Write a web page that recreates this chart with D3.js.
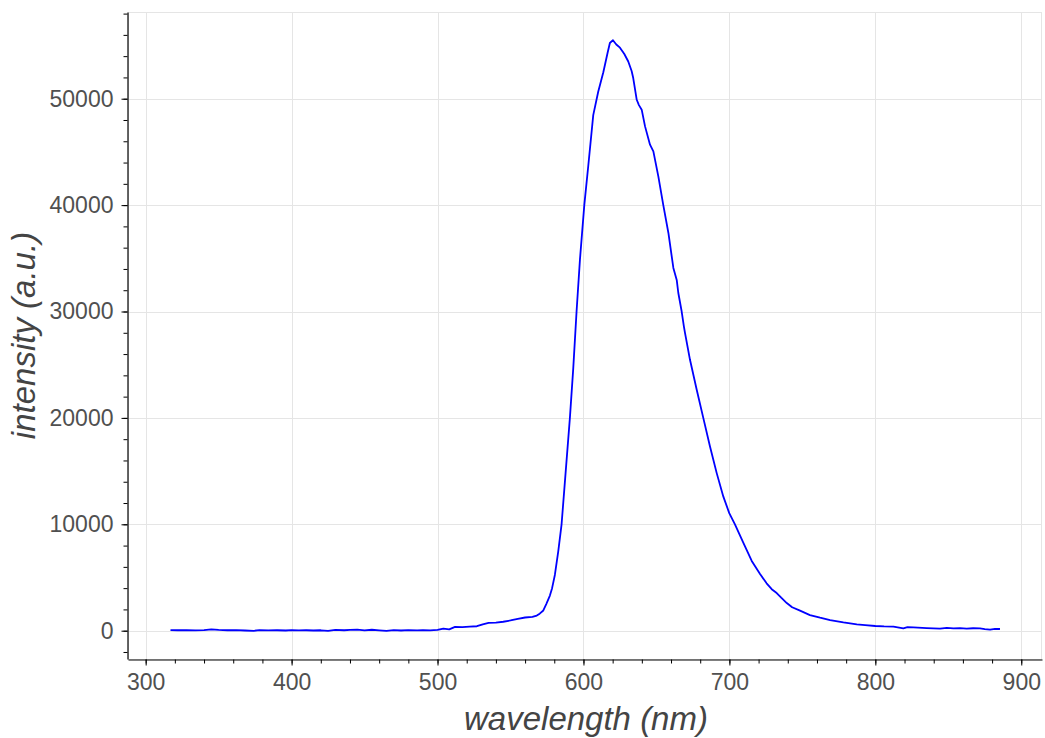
<!DOCTYPE html>
<html>
<head>
<meta charset="utf-8">
<script src="https://cdn.jsdelivr.net/npm/d3@7/dist/d3.min.js"></script>
<style>
  html, body { margin: 0; padding: 0; background: #fff; }
  svg { display: block; }
  text { font-family: "Liberation Sans", Arial, Helvetica, sans-serif; }
</style>
</head>
<body>
<svg id="chart" width="1045" height="738"></svg>
<script>
// wavelength (nm)
const wavelength = [317,322,328,334,340,345,350,356,362,368,374,378,384,390,396,400,405,410,415,420,425,430,436,440,445,450,455,460,465,470,475,480,486,490,495,500,504,508,512,517,522,527,531,535,540,545,550,555,560,565,568,570,572.5,574.5,577,578.5,580.4,582.7,585,587.3,590.7,593,595.3,597.6,600.6,603.3,606.7,610.1,613.6,616.5,618.1,620.2,622.5,625,628,630.7,633,634.1,636.5,638,639.9,642.2,645.6,647.9,651.3,654.7,658.2,661.6,663.9,665,667.3,668.8,669.6,673,677.6,682.1,686.7,691.3,695.8,699.9,703.8,709.5,715.3,721,725.5,729,732.4,735.5,739.3,743,748.4,755.2,762.1,769,778.1,787.3,793,800,806,812.4,819.2,822,826.1,835.2,844.3,849,853.5,858,862.6,867,871.7,875,878.6,882,885.4];
// intensity (a.u.)
const intensity = [60,40,50,30,60,120,70,40,50,20,-10,50,30,40,20,60,30,40,20,40,-20,80,40,70,100,30,90,40,-10,50,20,60,30,60,30,70,200,130,360,340,380,420,600,740,760,840,960,1120,1240,1300,1420,1600,1900,2500,3300,4000,5240,7440,10000,14030,20000,24650,30070,34900,40040,43700,48460,50660,52490,54300,55240,55500,55100,54800,54200,53500,52600,51940,49900,49400,48970,47400,45680,45050,42700,40000,37380,34090,32970,31740,30000,28610,27960,25460,22640,20000,17320,14810,12620,11050,10000,8280,6560,5330,4450,3900,3540,3100,2600,2200,1880,1470,1220,1000,780,600,520,440,400,380,220,330,310,250,190,260,220,240,190,230,220,150,100,180,160];
const xMajorTicks = [300,400,500,600,700,800,900];
const xMinorTicks = d3.range(300, 901, 20);
const yMajorTicks = [0,10000,20000,30000,40000,50000];
const yMinorTicks = d3.range(-2000, 58001, 2000);
const xLabel = "wavelength (nm)";
const yLabel = "intensity (a.u.)";

const data = wavelength.map((w, i) => ({x: w, y: intensity[i]}));

const L = 128, R = 1042, T = 12, B = 659;
const svg = d3.select("#chart");

const x = d3.scaleLinear().domain([287.9, 914.2]).range([L, R]);
const y = d3.scaleLinear().domain([-2660, 58150]).range([B, T]);

// grid
const grid = svg.append("g").attr("stroke", "#e5e5e5").attr("stroke-width", 1);
grid.selectAll("line.vx").data(xMajorTicks).join("line")
  .attr("x1", d => Math.round(x(d)) + 0.5).attr("x2", d => Math.round(x(d)) + 0.5)
  .attr("y1", T).attr("y2", B);
grid.selectAll("line.hy").data(yMajorTicks).join("line")
  .attr("x1", L).attr("x2", R)
  .attr("y1", d => Math.round(y(d)) + 0.5).attr("y2", d => Math.round(y(d)) + 0.5);

// outline
svg.append("rect").attr("x", L + 0.5).attr("y", T + 0.5)
  .attr("width", R - L - 1).attr("height", B - T)
  .attr("fill", "none").attr("stroke", "#e5e5e5");

// line
const line = d3.line().x(d => x(d.x)).y(d => y(d.y));
svg.append("path").datum(data)
  .attr("d", line)
  .attr("fill", "none")
  .attr("stroke", "#0000ff")
  .attr("stroke-width", 1.8)
  .attr("stroke-linejoin", "round");

// axes
const fontSize = 23;
const tickColor = "#505050";
const xAxisMinor = d3.axisBottom(x).tickValues(xMinorTicks).tickSize(4).tickFormat("").tickSizeOuter(0);
const xAxisMajor = d3.axisBottom(x).tickValues(xMajorTicks).tickSize(6).tickPadding(8).tickSizeOuter(0).tickFormat(d3.format("d"));
const gxm = svg.append("g").attr("transform", `translate(0,${B + 0.5})`).call(xAxisMinor);
const gx = svg.append("g").attr("transform", `translate(0,${B + 0.5})`).call(xAxisMajor);
gxm.select(".domain").attr("stroke", "#000").attr("stroke-width", 1.2);
gx.select(".domain").remove();
gx.selectAll("text").attr("font-size", fontSize).attr("fill", tickColor).attr("font-family", "Liberation Sans, Arial, sans-serif");

const yAxisMinor = d3.axisLeft(y).tickValues(yMinorTicks).tickSize(4).tickFormat("").tickSizeOuter(0);
const yAxisMajor = d3.axisLeft(y).tickValues(yMajorTicks).tickSize(6).tickPadding(8).tickSizeOuter(0).tickFormat(d3.format("d"));
const gym = svg.append("g").attr("transform", `translate(${L - 0.5},0)`).call(yAxisMinor);
const gy = svg.append("g").attr("transform", `translate(${L - 0.5},0)`).call(yAxisMajor);
gym.select(".domain").attr("stroke", "#000").attr("stroke-width", 1.2);
gy.select(".domain").remove();
gy.selectAll("text").attr("font-size", fontSize).attr("fill", tickColor).attr("font-family", "Liberation Sans, Arial, sans-serif");

// axis labels
svg.append("text")
  .attr("x", (L + R) / 2 + 1).attr("y", 730)
  .attr("text-anchor", "middle")
  .attr("font-size", 33).attr("font-style", "italic").attr("fill", "#444")
  .text(xLabel);
svg.append("text")
  .attr("transform", `translate(35,${(T + B) / 2}) rotate(-90)`)
  .attr("text-anchor", "middle")
  .attr("font-size", 33).attr("font-style", "italic").attr("fill", "#444")
  .text(yLabel);
</script>
</body>
</html>
